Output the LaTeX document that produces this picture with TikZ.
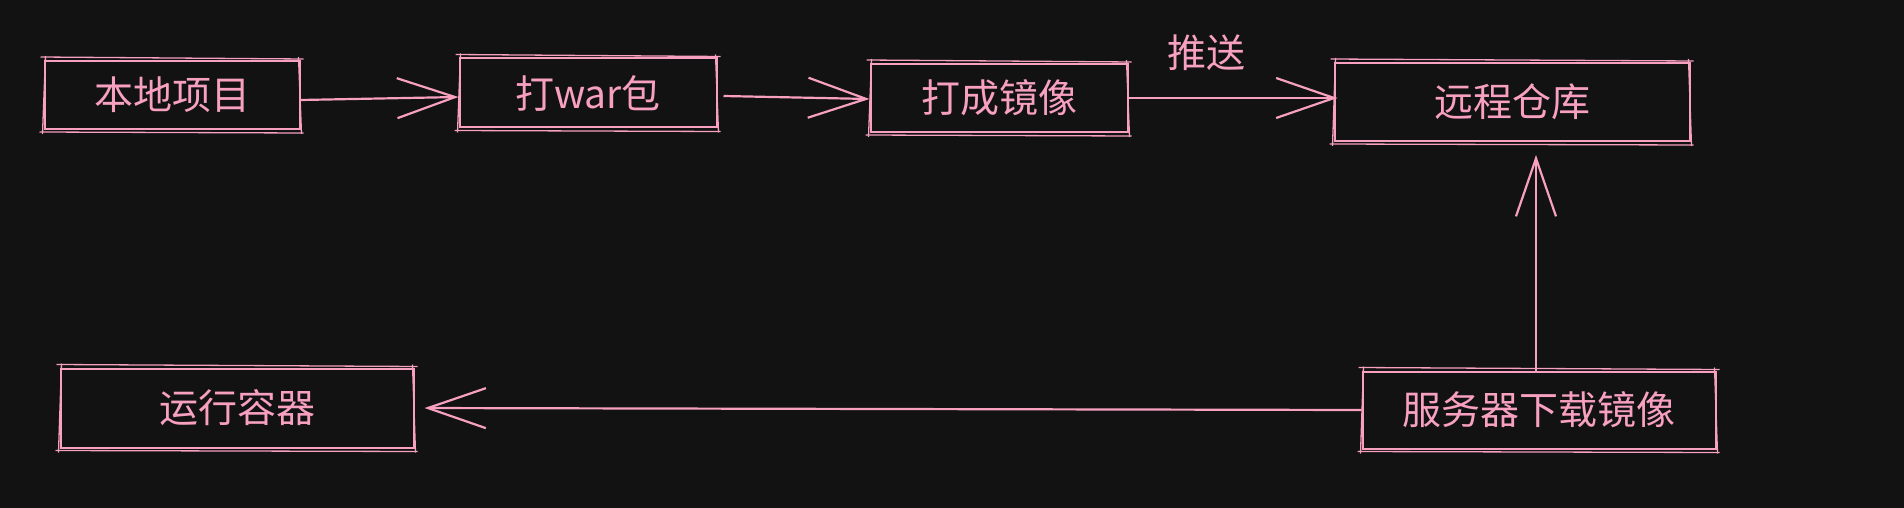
\documentclass[tikz,border=0pt]{standalone}
\usepackage{fontspec}
\newfontfamily\cjk{Noto Sans CJK SC}
\usetikzlibrary{arrows.meta,calc}
\definecolor{bg}{HTML}{121212}
\definecolor{pk}{HTML}{F7A0C0}
\newcommand\skbox[1]{%
  \draw[skl] ([shift={(-3,-3)}]#1.north west) -- ([shift={(3,-1)}]#1.north east);
  \draw[skl] ([shift={(-4,2)}]#1.south west) -- ([shift={(3,3)}]#1.south east);
  \draw[skl] ([shift={(2,-4)}]#1.north west) -- ([shift={(-1,4)}]#1.south west);
  \draw[skl] ([shift={(-2,-3)}]#1.north east) -- ([shift={(1,4)}]#1.south east);
}
\tikzset{
  box/.style={draw=pk, line width=2pt, text=pk, font=\cjk\fontsize{39}{41}\selectfont, inner sep=0pt, minimum width=#1},
  skl/.style={draw=pk, line width=1.3pt},
  conn/.style={draw=pk, line width=2.2pt, -{Straight Barb[length=58pt,width=40pt,line width=2.2pt]}},
  lbl/.style={text=pk, font=\cjk\fontsize{39}{41}\selectfont, inner sep=0pt}
}
\begin{document}
\begin{tikzpicture}[x=1pt,y=-1pt]
\fill[bg] (0,0) rectangle (1904,508);
\useasboundingbox (0,0) rectangle (1904,508);
\node[box=255pt, minimum height=68pt] (a) at (172,95) {本地项目};
\node[box=257pt, minimum height=69pt] (b) at (588,93) {打war包};
\node[box=257pt, minimum height=68pt] (c) at (999,98) {打成镜像};
\node[box=355pt, minimum height=78pt] (d) at (1512,102) {远程仓库};
\node[box=353pt, minimum height=79pt] (e) at (237,408) {运行容器};
\node[box=353pt, minimum height=77pt] (f) at (1539,410) {服务器下载镜像};
\skbox{a}\skbox{b}\skbox{c}\skbox{d}\skbox{e}\skbox{f}
\draw[conn] ([yshift=-5]a.east) -- ([yshift=-4]b.west);
\draw[conn] ([xshift=6,yshift=-3]b.east) -- ([yshift=-1]c.west);
\draw[conn] (c.east) -- ([xshift=4,yshift=4]d.west);
\node[lbl] (p) at (1206,53) {推送};
\draw[conn, shorten >=13pt] ([xshift=-3]f.north) -- ([xshift=-3]f.north |- d.south);
\draw[conn, shorten >=10pt] (f.west) -- (e.east);
\end{tikzpicture}
\end{document}
